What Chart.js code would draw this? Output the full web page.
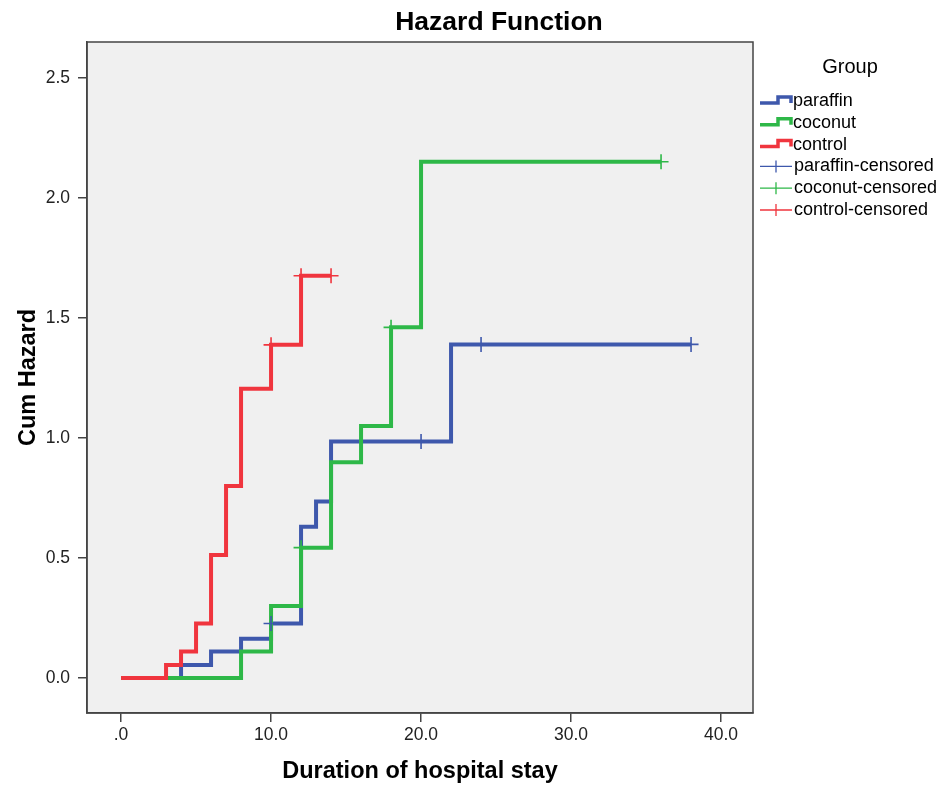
<!DOCTYPE html>
<html>
<head>
<meta charset="utf-8">
<title>Hazard Function</title>
<script src="https://cdn.jsdelivr.net/npm/chart.js@4.4.0/dist/chart.umd.min.js"></script>
<style>
  body { margin: 0; background: #fff; }
</style>
</head>
<body>
<canvas id="hazard-chart" width="945" height="789"></canvas>
<script>
// Data: cumulative hazard steps per group (time, cum hazard)
const groupNames = ['paraffin', 'coconut', 'control'];
const groupColors = ['#3e58ac', '#2eb848', '#f0353e'];

const paraffinTimes = [0, 4, 6, 8, 10, 12, 13, 14, 22, 38];
const paraffinHazard = [0, 0.054, 0.11, 0.163, 0.227, 0.63, 0.735, 0.985, 1.39, 1.39];
const coconutTimes = [0, 8, 10, 12, 14, 16, 18, 20, 36];
const coconutHazard = [0, 0.11, 0.30, 0.543, 0.899, 1.05, 1.461, 2.151, 2.151];
const controlTimes = [0, 3, 4, 5, 6, 7, 8, 10, 12, 14];
const controlHazard = [0, 0.054, 0.11, 0.227, 0.512, 0.80, 1.205, 1.388, 1.676, 1.676];

// Censored observations
const paraffinCensTimes = [10, 20, 24, 38];
const paraffinCensHazard = [0.227, 0.985, 1.39, 1.39];
const coconutCensTimes = [12, 18, 36];
const coconutCensHazard = [0.543, 1.461, 2.151];
const controlCensTimes = [10, 12, 14];
const controlCensHazard = [1.388, 1.676, 1.676];

// Axis ticks
const xTickValues = [0, 10, 20, 30, 40];
const xTickLabels = ['.0', '10.0', '20.0', '30.0', '40.0'];
const yTickValues = [0, 0.5, 1, 1.5, 2, 2.5];
const yTickLabels = ['0.0', '0.5', '1.0', '1.5', '2.0', '2.5'];

const FONT = '"Liberation Sans", Arial, sans-serif';

function toPoints(xs, ys) {
    return xs.map((x, i) => ({ x: x, y: ys[i] }));
}

const stepSets = [
    toPoints(paraffinTimes, paraffinHazard),
    toPoints(coconutTimes, coconutHazard),
    toPoints(controlTimes, controlHazard)
];
const censSets = [
    toPoints(paraffinCensTimes, paraffinCensHazard),
    toPoints(coconutCensTimes, coconutCensHazard),
    toPoints(controlCensTimes, controlCensHazard)
];

const datasets = [];
groupNames.forEach((name, i) => {
    datasets.push({
        label: name,
        data: stepSets[i],
        borderColor: groupColors[i],
        backgroundColor: groupColors[i],
        borderWidth: 4,
        stepped: 'before',
        pointRadius: 0,
        showLine: true,
        fill: false,
        order: 2 - i
    });
});
groupNames.forEach((name, i) => {
    datasets.push({
        label: name + '-censored',
        data: censSets[i],
        borderColor: groupColors[i],
        backgroundColor: groupColors[i],
        pointStyle: 'cross',
        pointRadius: 7.5,
        pointBorderWidth: 1.6,
        showLine: false,
        order: -1
    });
});

// Plot background, frame, title and legend
const spssFrame = {
    id: 'spssFrame',
    beforeDraw(chart) {
        const { ctx, chartArea: a } = chart;
        ctx.save();
        ctx.fillStyle = '#f0f0f0';
        ctx.fillRect(a.left, a.top, a.right - a.left, a.bottom - a.top);
        ctx.restore();
    },
    afterDraw(chart) {
        const { ctx, chartArea: a } = chart;
        ctx.save();
        ctx.strokeStyle = '#444';
        ctx.lineWidth = 1.5;
        ctx.strokeRect(a.left, a.top, a.right - a.left, a.bottom - a.top);

        // title
        ctx.fillStyle = '#000';
        ctx.font = 'bold 26.5px ' + FONT;
        ctx.textAlign = 'center';
        ctx.textBaseline = 'middle';
        ctx.fillText('Hazard Function', 499, 23);

        // legend
        ctx.font = '20px ' + FONT;
        ctx.fillText('Group', 850, 67);
        ctx.textAlign = 'left';
        ctx.font = '18px ' + FONT;
        const rowGap = 21.8;
        let y = 101;
        groupNames.forEach((name, i) => {
            ctx.strokeStyle = groupColors[i];
            ctx.lineWidth = 3.5;
            ctx.beginPath();
            ctx.moveTo(760, y + 2);
            ctx.lineTo(778, y + 2);
            ctx.lineTo(778, y - 4);
            ctx.lineTo(791, y - 4);
            ctx.lineTo(791, y + 2);
            ctx.stroke();
            ctx.fillText(name, 793, y);
            y += rowGap;
        });
        groupNames.forEach((name, i) => {
            ctx.strokeStyle = groupColors[i];
            ctx.lineWidth = 1.3;
            ctx.beginPath();
            ctx.moveTo(760, y);
            ctx.lineTo(792, y);
            ctx.moveTo(776, y - 6);
            ctx.lineTo(776, y + 6);
            ctx.stroke();
            ctx.fillText(name + '-censored', 794, y);
            y += rowGap;
        });
        ctx.restore();
    }
};

const ctx = document.getElementById('hazard-chart').getContext('2d');
const hazardChart = new Chart(ctx, {
    type: 'scatter',
    data: { datasets: datasets },
    options: {
        responsive: false,
        animation: false,
        layout: { padding: { top: 42, right: 192, left: 0, bottom: 0 } },
        plugins: {
            legend: { display: false },
            tooltip: { enabled: false }
        },
        scales: {
            x: {
                type: 'linear',
                min: -2.27,
                max: 42.13,
                afterFit: function(scale) { scale.height = 76; },
                afterBuildTicks: function(scale) {
                    scale.ticks = xTickValues.map(v => ({ value: v }));
                },
                ticks: {
                    color: '#222',
                    font: { family: FONT, size: 17.5 },
                    padding: 3,
                    maxRotation: 0,
                    callback: function(value) {
                        const idx = xTickValues.indexOf(value);
                        return idx >= 0 ? xTickLabels[idx] : '';
                    }
                },
                grid: { drawOnChartArea: false, drawTicks: true, tickLength: 9, color: '#444', lineWidth: 1.5 },
                border: { display: true, color: '#444', width: 1.5 },
                title: {
                    display: true,
                    text: 'Duration of hospital stay',
                    color: '#000',
                    font: { family: FONT, size: 23.5, weight: 'bold' },
                    padding: { top: 0, bottom: 3 }
                }
            },
            y: {
                type: 'linear',
                min: -0.146,
                max: 2.65,
                afterFit: function(scale) { scale.width = 87; },
                afterBuildTicks: function(scale) {
                    scale.ticks = yTickValues.map(v => ({ value: v }));
                },
                ticks: {
                    color: '#222',
                    font: { family: FONT, size: 17.5 },
                    padding: 8,
                    callback: function(value) {
                        const idx = yTickValues.indexOf(value);
                        return idx >= 0 ? yTickLabels[idx] : '';
                    }
                },
                grid: { drawOnChartArea: false, drawTicks: true, tickLength: 9, color: '#444', lineWidth: 1.5 },
                border: { display: true, color: '#444', width: 1.5 },
                title: {
                    display: true,
                    text: 'Cum Hazard',
                    color: '#000',
                    font: { family: FONT, size: 23.5, weight: 'bold' },
                    padding: { top: 14, bottom: 0 }
                }
            }
        }
    },
    plugins: [spssFrame]
});
</script>
</body>
</html>
